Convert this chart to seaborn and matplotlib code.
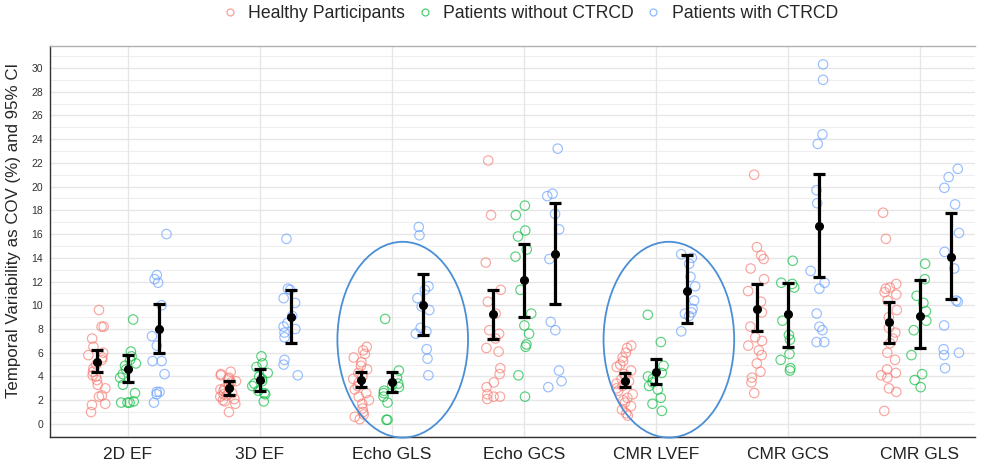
import numpy as np
import pandas as pd
import matplotlib
matplotlib.use("Agg")
import matplotlib.pyplot as plt
from matplotlib.patches import Ellipse
from matplotlib.lines import Line2D
import seaborn as sns

categories = ["2D EF", "3D EF", "Echo GLS", "Echo GCS", "CMR LVEF", "CMR GCS", "CMR GLS"]
groups = ["Healthy Participants", "Patients without CTRCD", "Patients with CTRCD"]
colors = ["#F8766D", "#00BA38", "#619CFF"]

healthy = {
    "2D EF": [9.6, 8.2, 8.2, 7.2, 6.5, 6.0, 5.8, 5.6, 5.4, 5.0, 4.7, 4.4, 4.1, 4.0, 3.7, 3.3, 3.0, 2.4, 2.3, 1.7, 1.6, 1.0],
    "3D EF": [4.4, 4.2, 4.1, 3.9, 3.8, 3.6, 3.5, 3.3, 3.2, 3.0, 2.9, 2.8, 2.6, 2.5, 2.4, 2.3, 2.1, 2.0, 1.9, 1.7, 1.0],
    "Echo GLS": [6.5, 6.2, 5.9, 5.6, 5.2, 4.9, 4.6, 4.3, 4.0, 3.8, 3.5, 3.2, 2.9, 2.6, 2.3, 2.0, 1.7, 1.3, 1.0, 0.8, 0.6, 0.4],
    "Echo GCS": [22.2, 17.6, 13.6, 11.3, 10.3, 9.3, 7.9, 7.6, 7.2, 6.4, 6.1, 4.7, 4.2, 3.5, 3.1, 2.5, 2.3, 2.3, 2.1],
    "CMR LVEF": [6.6, 6.4, 6.0, 5.6, 5.3, 5.0, 4.8, 4.5, 4.2, 4.0, 3.8, 3.6, 3.4, 3.2, 3.0, 2.8, 2.5, 2.2, 2.0, 1.8, 1.5, 1.2, 0.9, 0.7],
    "CMR GCS": [21.0, 14.9, 14.2, 13.9, 13.1, 12.2, 11.2, 10.3, 9.4, 8.2, 7.3, 7.0, 6.6, 6.2, 5.8, 5.1, 4.4, 3.9, 3.5, 2.6],
    "CMR GLS": [17.8, 15.6, 11.8, 11.5, 11.4, 11.1, 10.9, 10.4, 9.6, 9.0, 8.1, 7.7, 7.2, 6.8, 6.0, 5.4, 4.6, 4.3, 4.1, 3.9, 3.0, 2.7, 1.1],
}
without_ctrcd = {
    "2D EF": [8.8, 6.1, 5.7, 5.4, 5.1, 4.9, 4.6, 4.2, 3.9, 3.3, 2.6, 1.9, 1.8, 1.8, 1.8],
    "3D EF": [5.7, 5.1, 4.8, 4.3, 4.0, 3.8, 3.6, 3.4, 3.2, 2.8, 2.6, 2.5, 1.9],
    "Echo GLS": [8.85, 4.5, 3.9, 3.4, 3.3, 3.1, 2.8, 2.6, 2.3, 1.8, 0.35, 0.35],
    "Echo GCS": [18.4, 17.6, 16.3, 15.8, 14.7, 14.1, 11.3, 9.3, 8.3, 7.6, 6.7, 6.5, 4.1, 2.3],
    "CMR LVEF": [9.2, 6.9, 4.9, 4.3, 4.0, 3.8, 3.5, 3.2, 2.9, 2.2, 1.7, 1.1],
    "CMR GCS": [13.75, 11.9, 11.8, 11.5, 8.7, 7.5, 7.1, 5.9, 5.4, 4.7, 4.5],
    "CMR GLS": [13.5, 12.2, 10.8, 10.2, 9.5, 8.7, 7.9, 5.8, 4.2, 3.7, 3.1],
}
with_ctrcd = {
    "2D EF": [16.0, 12.55, 12.2, 11.9, 10.0, 7.4, 6.6, 5.3, 5.3, 4.2, 2.7, 2.5, 2.7, 1.8],
    "3D EF": [15.6, 11.4, 11.3, 10.6, 10.2, 9.1, 8.5, 8.2, 8.0, 7.7, 7.3, 5.4, 5.0, 4.1],
    "Echo GLS": [16.6, 15.9, 11.6, 11.3, 10.6, 9.9, 9.6, 8.1, 7.8, 7.6, 6.3, 5.5, 4.1],
    "Echo GCS": [23.2, 19.4, 19.2, 17.7, 16.4, 13.9, 8.6, 7.9, 4.5, 3.6, 3.1],
    "CMR LVEF": [14.3, 14.0, 13.5, 12.4, 11.6, 10.4, 9.7, 9.4, 9.3, 9.1, 7.8],
    "CMR GCS": [30.3, 29.0, 24.4, 23.6, 19.7, 18.6, 12.9, 11.9, 11.4, 9.3, 8.2, 7.9, 6.9, 6.9],
    "CMR GLS": [21.5, 20.8, 19.9, 18.5, 16.1, 14.5, 13.1, 10.4, 10.3, 8.3, 6.3, 6.0, 5.8, 4.7],
}

# means and 95% CI bounds
healthy_mean = [5.25, 3.0, 3.7, 9.25, 3.65, 9.7, 8.55]
healthy_lo = [4.35, 2.45, 3.15, 7.15, 3.1, 7.8, 6.85]
healthy_hi = [6.2, 3.6, 4.35, 11.3, 4.3, 11.8, 10.3]
without_mean = [4.6, 3.7, 3.5, 12.1, 4.35, 9.25, 9.1]
without_lo = [3.5, 2.8, 2.7, 9.0, 3.35, 6.5, 6.4]
without_hi = [5.8, 4.6, 4.4, 15.2, 5.5, 11.9, 12.1]
with_mean = [8.0, 9.0, 10.0, 14.3, 11.2, 16.7, 14.1]
with_lo = [6.0, 6.8, 7.5, 10.1, 8.5, 12.35, 10.5]
with_hi = [10.1, 11.3, 12.6, 18.6, 14.2, 21.1, 17.75]

group_data = [healthy, without_ctrcd, with_ctrcd]
group_stats = [
    (healthy_mean, healthy_lo, healthy_hi),
    (without_mean, without_lo, without_hi),
    (with_mean, with_lo, with_hi),
]
offsets = [-0.235, 0.0, 0.235]

rng = np.random.default_rng(7)
rows = []
for g, gname in enumerate(groups):
    for c, cat in enumerate(categories):
        for v in group_data[g][cat]:
            rows.append({"group": gname, "cat": cat,
                         "x": c + offsets[g] + rng.uniform(-0.065, 0.065), "value": v})
df = pd.DataFrame(rows)

sns.set_style("white")
plt.rcParams["font.family"] = ["Liberation Sans", "DejaVu Sans"]

fig = plt.figure(figsize=(9.86, 4.62), dpi=100)
ax = fig.add_axes([50 / 986, 1 - 437 / 462, 925 / 986, 391 / 462])

# grid
for yv in range(-1, 32):
    ax.axhline(yv, color="#e6e6e6" if yv % 2 == 0 else "#efefef",
               lw=1.0 if yv % 2 == 0 else 0.8, zorder=0)
for c in range(len(categories)):
    ax.axvline(c, color="#e6e6e6", lw=1.0, zorder=0)

sns.scatterplot(data=df, x="x", y="value", hue="group", hue_order=groups,
                palette=colors, marker="o", s=46, facecolors="none",
                linewidth=0.85, alpha=0.65, legend=False, ax=ax, zorder=2)
coll = ax.collections[-1]
fc = coll.get_facecolors()
coll.set_edgecolors(fc)
coll.set_facecolors("none")

for g in range(3):
    m, lo, hi = group_stats[g]
    xs = np.arange(len(categories)) + offsets[g]
    m = np.array(m); lo = np.array(lo); hi = np.array(hi)
    ax.errorbar(xs, m, yerr=[m - lo, hi - m], fmt="o", color="black",
                markersize=5.5, elinewidth=2.3, capsize=4, capthick=2.3, zorder=4)

# highlight ellipses
for c, dx in [(2, 0.083), (4, 0.10)]:
    ax.add_patch(Ellipse((c + dx, 7.1), width=0.99, height=16.5, fill=False,
                         edgecolor="#4A8ED6", lw=1.3, clip_on=False, zorder=5))

ax.set_xlim(-0.59, 6.42)
ax.set_ylim(-1.1, 31.85)
ax.set_xticks(range(len(categories)))
ax.set_xticklabels(categories, fontsize=12.5, color="#222222")
ax.set_yticks(range(0, 31, 2))
ax.tick_params(axis="y", labelsize=7.5, length=3, width=0.8, colors="#333333", pad=2)
ax.tick_params(axis="x", length=4, width=0.8, colors="#333333", pad=3)
ax.tick_params(axis="x", labelcolor="#222222")
ax.set_xlabel("")
ax.set_ylabel("Temporal Variability as COV (%) and 95% CI", fontsize=12.2)
ax.yaxis.set_label_coords(-0.031, 0.529)

for s in ["left", "bottom"]:
    ax.spines[s].set_color("#333333")
    ax.spines[s].set_linewidth(1.0)
ax.spines["top"].set_color("#b0b0b0")
ax.spines["top"].set_linewidth(1.0)
ax.spines["right"].set_visible(False)

handles = [Line2D([], [], marker="o", linestyle="none", markerfacecolor="none",
                  markeredgecolor=col, markersize=5, markeredgewidth=0.9, alpha=0.7)
           for col in colors]
fig.legend(handles, groups, loc="center", bbox_to_anchor=(0.537, 1 - 14 / 462),
           ncol=3, frameon=False, fontsize=12.7, handlelength=1.0, handletextpad=0.55,
           columnspacing=0.6)

fig.savefig("out.png", dpi=100)
